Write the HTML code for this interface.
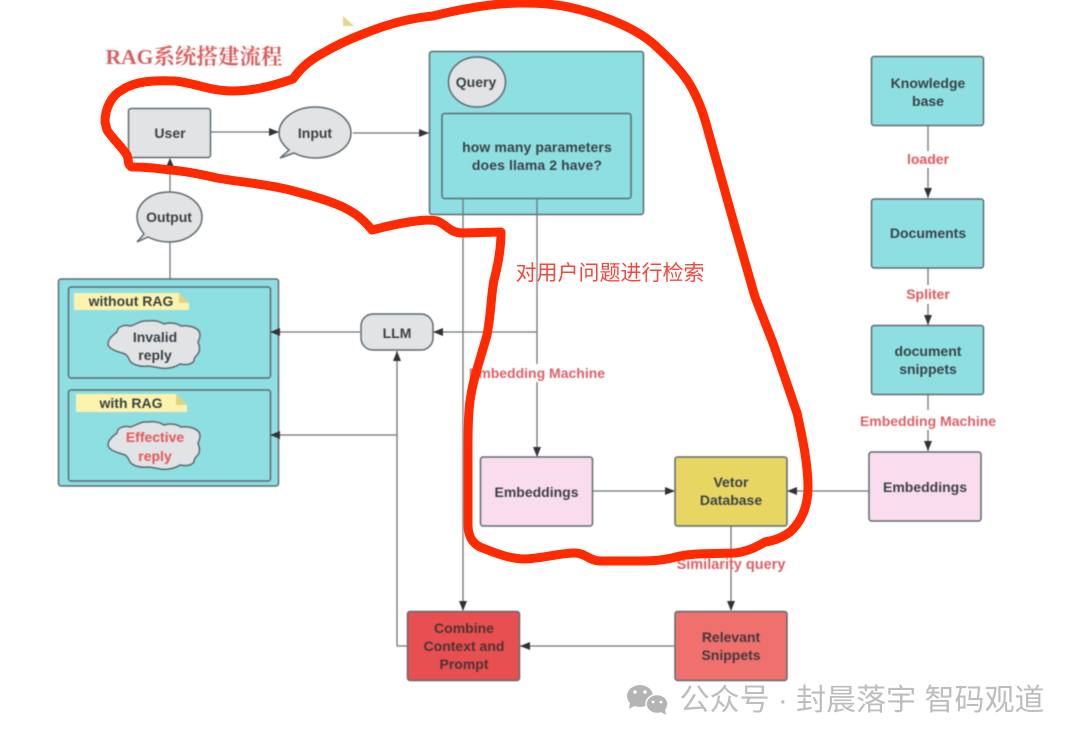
<!DOCTYPE html>
<html><head><meta charset="utf-8">
<style>
html,body{margin:0;padding:0;background:#fff;width:1080px;height:743px;overflow:hidden}
svg{display:block}
.d{filter:blur(.4px)}
text{font-family:"Liberation Sans","Noto Sans CJK SC",sans-serif;font-weight:700;font-size:14px;fill:#3a4245;text-anchor:middle}
.r{fill:#e4575a}
.l{fill:#df5f66}
.b{stroke:#5e6a70;stroke-width:1.5}
.c{fill:none;stroke:#6f7679;stroke-width:1.3}
.a{fill:#333}
</style></head><body>
<svg width="1080" height="743" viewBox="0 0 1080 743" xmlns="http://www.w3.org/2000/svg">
<rect width="1080" height="743" fill="#fff"/>
<g class="d">
<!-- User -->
<rect class="b" x="128.500" y="108.500" width="82" height="49" rx="2.500" fill="#e2e3e4"/>
<text x="170" y="138">User</text>
<!-- bubbles -->
<path class="b" fill="#e2e3e4" d="M315 107c20 0 36 12 36 26s-16 25-36 25c-8 0-15-2-21-5l-14 5 9-8c-6-5-10-11-10-17 0-14 16-26 36-26z"/>
<text x="315" y="138">Input</text>
<path class="b" fill="#e2e3e4" d="M169 192c18 0 33 11 33 25s-15 25-33 25c-8 0-15-2-21-5l-11 5 7-8c-4-5-7-11-7-17 0-14 14-25 32-25z"/>
<text x="169" y="222">Output</text>

<!-- Query group -->
<rect class="b" x="429.500" y="51.500" width="214" height="163" rx="2.500" fill="#8edfe2"/>
<ellipse class="b" cx="477" cy="82" rx="28.500" ry="25" fill="#e2e3e4"/>
<text x="476" y="87">Query</text>
<rect class="b" x="442" y="113.500" width="189" height="85" rx="2.500" fill="#8edfe2"/>
<text x="537" y="152" style="letter-spacing:.1px">how many parameters</text>
<text x="537" y="170" style="letter-spacing:.1px">does llama 2 have?</text>

<!-- Reply group -->
<rect class="b" x="58.500" y="279" width="220" height="207" rx="2.500" fill="#8edfe2"/>
<rect class="b" x="68.500" y="287" width="202" height="91" rx="2.500" fill="#8edfe2"/>
<rect class="b" x="68.500" y="390" width="202" height="91" rx="2.500" fill="#8edfe2"/>
<path fill="#fdf3ae" d="M74 293H179L189 303V310H74z"/>
<path fill="#e3d27f" d="M179 293L189 303H179z"/>
<text x="131" y="306">without RAG</text>
<path fill="#fdf3ae" d="M76 394H176L187 405V412H76z"/>
<path fill="#e3d27f" d="M176 394L187 405H176z"/>
<text x="131" y="408">with RAG</text>
<path class="b" fill="#e2e3e4" d="M108 344c0-5 5-9 9-12 0-5 7-8 13-6 6-1 10-6 18-5 6-1 11 0 16 3 5-2 13-1 17 2 7-1 19 1 19 9 0 3-1 5-2 7 2 5 2 10-1 13-2 2-3 3-3 6-3 4-9 4-14 3-6 4-14 5-20 4-5-1-9-2-13-2-6 1-14-1-17-5-2-4-3-7-8-8-7-2-14-5-14-9z"/>
<text x="155" y="342">Invalid</text>
<text x="155" y="360">reply</text>
<path class="b" fill="#e2e3e4" d="M108 445c0-5 5-9 9-12 0-5 7-8 13-6 6-1 10-6 18-5 6-1 11 0 16 3 5-2 13-1 17 2 7-1 19 1 19 9 0 3-1 5-2 7 2 5 2 10-1 13-2 2-3 3-3 6-3 4-9 4-14 3-6 4-14 5-20 4-5-1-9-2-13-2-6 1-14-1-17-5-2-4-3-7-8-8-7-2-14-5-14-9z"/>
<text class="r" x="155" y="442">Effective</text>
<text class="r" x="155" y="461">reply</text>

<!-- LLM -->
<rect class="b" x="361" y="314" width="72" height="36" rx="12" fill="#e2e3e4"/>
<text x="397" y="338">LLM</text>

<!-- Right column -->
<rect class="b" x="871.500" y="56.500" width="112" height="69" rx="2.500" fill="#8edfe2"/>
<text x="928" y="88">Knowledge</text>
<text x="928" y="106">base</text>
<rect class="b" x="871.500" y="199" width="112" height="69" rx="2.500" fill="#8edfe2"/>
<text x="928" y="238">Documents</text>
<rect class="b" x="871.500" y="325.500" width="112" height="69" rx="2.500" fill="#8edfe2"/>
<text x="928" y="356">document</text>
<text x="928" y="374">snippets</text>
<rect class="b" x="869" y="452" width="112" height="69" rx="2.500" fill="#f9dcee"/>
<text x="925" y="492">Embeddings</text>

<!-- center -->
<rect class="b" x="480.500" y="457" width="112" height="69" rx="2.500" fill="#f9dcee"/>
<text x="536.500" y="497">Embeddings</text>
<rect class="b" x="675" y="457" width="112" height="69" rx="2.500" fill="#e8d663"/>
<text x="731" y="487">Vetor</text>
<text x="731" y="505">Database</text>
<rect class="b" x="407.500" y="611.500" width="112" height="69" rx="2.500" fill="#e84f50"/>
<text x="464" y="633" style="fill:#4b3336">Combine</text>
<text x="464" y="651" style="fill:#4b3336">Context and</text>
<text x="464" y="669" style="fill:#4b3336">Prompt</text>
<rect class="b" x="675" y="611.500" width="112" height="69" rx="2.500" fill="#f0706e"/>
<text x="731" y="642" style="fill:#43383b">Relevant</text>
<text x="731" y="660" style="fill:#43383b">Snippets</text>

<!-- connectors -->
<path class="c" d="M211 132H280M353 133H429M170 192V160M170 279V242M360 332H272M537 332H433M397 646V351M407 646H397M397 435H272M463 199V610M537 199V332M537 332V456M593 491H674M869 491H788M731 526V610M675 646H520M928 126V151M928 168V198M928 268V285M928 304V325M928 394V410M928 430V451"/>
<path class="a" d="M279 132l-10-4v8zM429 133l-10-4v8zM170 158l-4 9h8zM270 332l10-4v8zM270 435l10-4v8zM433 332l10-4v8zM397 351l-4 10h8zM463 611l-4-10h8zM537 457l-4-10h8zM675 491l-10-4v8zM787 491l10-4v8zM731 611l-4-10h8zM520 646l10-4v8zM928 198l-4-10h8zM928 325l-4-10h8zM928 451l-4-10h8z"/>

<!-- edge labels -->
<rect x="905" y="151" width="46" height="17" fill="#fff"/>
<text class="r" x="928" y="164">loader</text>
<rect x="904" y="285" width="48" height="19" fill="#fff"/>
<text class="r" x="928" y="299">Spliter</text>
<rect x="855" y="411" width="145" height="19" fill="#fff"/>
<text class="l" x="928" y="426">Embedding Machine</text>
<rect x="470" y="364" width="135" height="18" fill="#fff"/>
<text class="l" x="537" y="378">Embedding Machine</text>
<text class="l" x="731" y="569" style="font-size:14.500px">Similarity query</text>

<!-- yellow marker -->
<path fill="#e3d78c" d="M343 16L354 26H343z"/>

<!-- title -->
<text x="194" y="64" style="font-family:'Liberation Serif','Noto Serif CJK SC',serif;font-size:21.500px;fill:#d9605f">RAG系统搭建流程</text>
</g>

<!-- red hand-drawn outline -->
<path fill="none" stroke="#ff2a00" stroke-width="9" stroke-linejoin="round" stroke-linecap="round" d="M105 122C105 108 112 95 122 90C135 81 155 80 175 81C195 83 210 91 232 91C255 91 275 85 293 79C302 66 312 59 323 53C335 46 350 39 363 34C385 25 410 18 433 16C465 8 495 3 523 3C545 3 560 5 573 8C595 13 610 19 623 25C640 33 650 40 660 50C672 61 680 70 687 80C697 95 703 112 707 127L733 220L755 297L773 343L797 413C803 440 808 465 808 487C808 505 803 520 790 532C782 538 772 541 765 542C755 548 745 552 735 553C715 554 695 553 680 556C665 560 655 561 640 561L600 561C590 561 585 553 575 553C560 553 545 558 525 559C510 559 495 553 480 547C472 543 468 535 468 525L468 445C468 420 469 405 471 395C473 380 480 360 487 335C491 315 491 295 494 280C498 265 501 250 501 232L462 233C450 233 446 224 437 221C425 218 400 223 372 230C362 218 355 213 343 207C325 199 308 195 290 190C265 184 240 182 217 178C200 174 185 171 170 170C155 168 145 167 132 167C127 165 129 160 127 155C120 145 112 138 107 130Z"/>

<!-- annotation -->
<text x="610" y="280" style="font-weight:400;font-size:21px;fill:#f4483c">对用户问题进行检索</text>

<!-- watermark -->
<g fill="#b4b4b4">
<ellipse cx="640" cy="696" rx="13" ry="11"/>
<path d="M630 703l-1 6 7-4z"/>
<ellipse cx="657" cy="704" rx="11" ry="9.500" stroke="#fff" stroke-width="1.500"/>
<path d="M661 712l5 3-1-6z"/>
</g>
<g fill="#fff"><circle cx="635" cy="692" r="1.700"/><circle cx="645" cy="692" r="1.700"/><circle cx="653" cy="702" r="1.400"/><circle cx="661" cy="702" r="1.400"/></g>
<text x="862" y="710" style="font-weight:400;font-size:30px;fill:#bdbdbd">公众号 · 封晨落宇 智码观道</text>
</svg>
</body></html>
